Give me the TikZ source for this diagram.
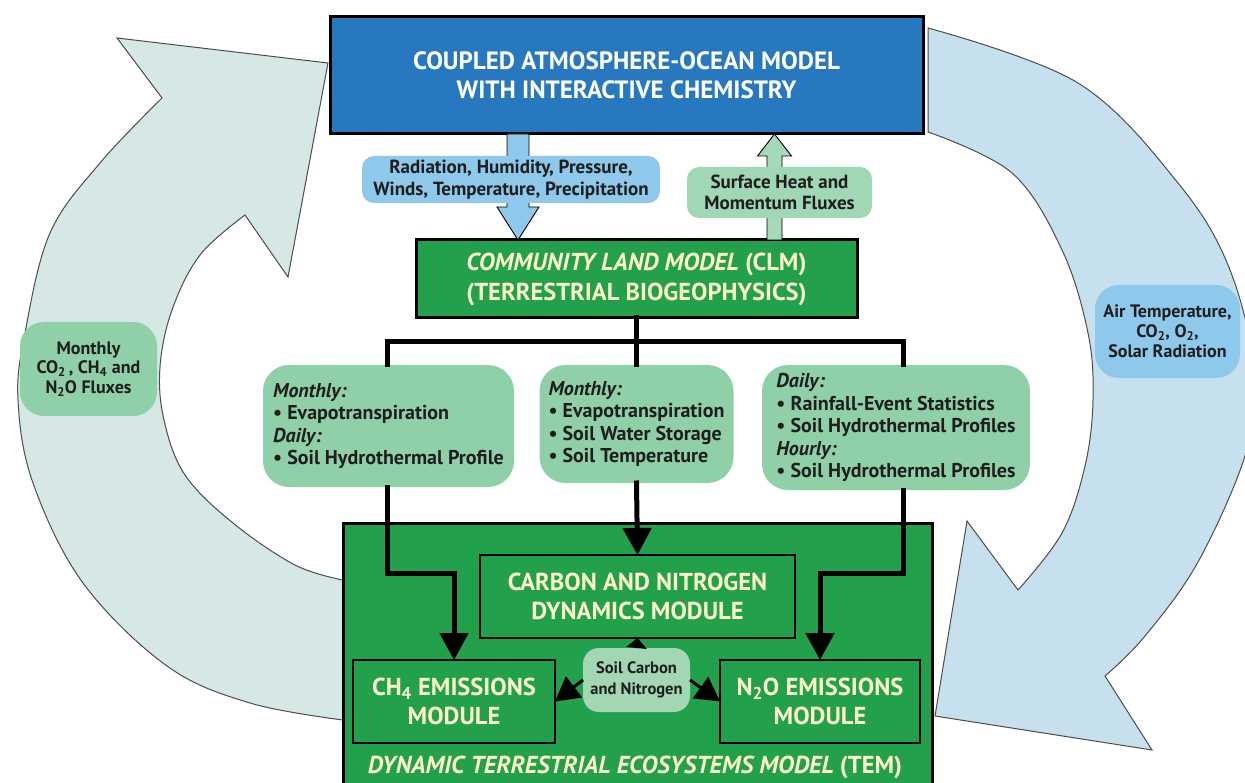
\documentclass[tikz,border=0pt]{standalone}
\usepackage{fontspec}
\setmainfont{PT Sans}
\usetikzlibrary{arrows.meta,calc}
\definecolor{atmblue}{HTML}{2878C0}
\definecolor{boxgreen}{HTML}{22A04B}
\definecolor{paleyellow}{HTML}{FDF6C6}
\definecolor{lgreen}{HTML}{8FD0A8}
\definecolor{lblue}{HTML}{8EC8EA}
\definecolor{leftarrow}{HTML}{D5E8E5}
\definecolor{rightarrow}{HTML}{C6E1ED}
\definecolor{darktext}{HTML}{1E1E1E}
\definecolor{soilfill}{HTML}{A3D6B2}
\tikzset{
  every node/.style={inner sep=0pt, outer sep=0pt},
  mainbox/.style={draw=black, line width=3pt, align=center},
  modbox/.style={draw=black, line width=2pt, fill=boxgreen, align=center, text=paleyellow,
    font=\bfseries\fontsize{24.5}{29}\selectfont},
  lbl/.style={rounded corners=26pt, fill=lgreen, align=left, text=darktext,
    font=\bfseries\fontsize{20}{22.5}\selectfont},
  bubble/.style={rounded corners=14pt, align=center, text=darktext},
  tree/.style={draw=black, line width=5pt, line cap=rect, line join=miter},
  flow/.style={tree, -{Triangle[width=28pt,length=27pt]}},
  soilarr/.style={draw=black, line width=3pt, -{Triangle[width=26pt,length=24pt]}},
  bigarrow/.style={draw=black!70, line width=1pt, line join=miter},
  fatarrow/.style={draw=black, line width=0.9pt, line join=miter},
}
\begin{document}
\begin{tikzpicture}[x=1pt, y=-1pt]
\useasboundingbox (0,0) rectangle (1245,783);
\clip (0,0) rectangle (1245,783);
\fill[white] (0,0) rectangle (1245,783);

% big curved arrows
\draw[bigarrow, fill=leftarrow]
  (343,720) -- plot[smooth, tension=0.6] coordinates {(343,720) (250,703) (167,666) (83,583) (33,483) (18,400) (25,333) (50,233) (100,163) (162,98)}
  -- (117,38) -- (328,63) -- (288,277) -- (245,215)
  -- plot[smooth, tension=0.6] coordinates {(245,215) (200,255) (172,310) (160,367) (164,420) (185,475) (233,523) (295,565) (343,580)}
  -- cycle;
\draw[bigarrow, fill=rightarrow]
  (928,28) -- plot[smooth, tension=0.6] coordinates {(928,28) (1078,83) (1178,183) (1230,270) (1256,380) (1245,456) (1198,562) (1145,636) (1105,676)}
  -- (1152,750) -- (935,716) -- (967,521) -- (1018,590)
  -- plot[smooth, tension=0.6] coordinates {(1018,590) (1062,533) (1085,466) (1093,400) (1088,333) (1062,250) (1012,173) (928,132)}
  -- cycle;

% main boxes
\node[mainbox, fill=atmblue, minimum width=593pt, minimum height=117pt, text=white,
  font=\bfseries\fontsize{25}{29.5}\selectfont] (atm) at (626.5,75.5)
  {COUPLED ATMOSPHERE-OCEAN MODEL\\WITH INTERACTIVE CHEMISTRY};
\node[mainbox, fill=boxgreen, minimum width=441pt, minimum height=78pt, text=paleyellow,
  font=\bfseries\fontsize{24.5}{30}\selectfont] (clm) at (636.5,279)
  {\textit{COMMUNITY LAND MODEL} (CLM)\\(TERRESTRIAL BIOGEOPHYSICS)};
\node[draw=black, line width=3pt, fill=boxgreen, minimum width=589pt, minimum height=270pt] (tem) at (637.5,658) {};

% fat arrows between atm and clm
\path (atm.south -| 518,0) coordinate (dtop) (clm.north -| 518,0) coordinate (dtip);
\draw[fatarrow, fill=lblue] ($(dtop)+(-11,0)$) -- ($(dtip)+(-11,-33)$) -- ($(dtip)+(-21,-33)$) -- (dtip)
  -- ($(dtip)+(21,-33)$) -- ($(dtip)+(11,-33)$) -- ($(dtop)+(11,0)$) -- cycle;
\path (clm.north -| 774.5,0) coordinate (utop) (atm.south -| 774.5,0) coordinate (utip);
\draw[fatarrow, fill=lgreen!80!white] ($(utop)+(-7.5,0)$) -- ($(utip)+(-7.5,22)$) -- ($(utip)+(-17,22)$) -- (utip)
  -- ($(utip)+(17,22)$) -- ($(utip)+(7.5,22)$) -- ($(utop)+(7.5,0)$) -- cycle;

% flux labels
\node[bubble, fill=lblue, minimum width=298pt, minimum height=47pt, rounded corners=12pt,
  font=\bfseries\fontsize{19}{21.5}\selectfont] (rad) at (511,179.5)
  {Radiation, Humidity, Pressure,\\Winds, Temperature, Precipitation};
\node[bubble, fill=lgreen!85!white, minimum width=185pt, minimum height=51pt, rounded corners=12pt,
  font=\bfseries\fontsize{19}{21}\selectfont] (shf) at (779.5,192.5)
  {Surface Heat and\\Momentum Fluxes};
\node[bubble, fill=lgreen, minimum width=137pt, minimum height=94pt, rounded corners=24pt,
  font=\bfseries\fontsize{18}{19.5}\selectfont] (co2) at (88.5,369)
  {Monthly\\CO\textsubscript{2}\,, CH\textsubscript{4} and\\N\textsubscript{2}O Fluxes};
\node[bubble, fill=lblue, minimum width=145pt, minimum height=93pt, rounded corners=24pt,
  font=\bfseries\fontsize{18}{20}\selectfont] (air) at (1167.5,331.5)
  {Air Temperature,\\CO\textsubscript{2}, O\textsubscript{2},\\Solar Radiation};

% three input labels
\node[lbl, minimum width=251pt, minimum height=122pt] (lbl1) at (388.5,426)
  {\textit{Monthly:}\\• Evapotranspiration\\\textit{Daily:}\\• Soil Hydrothermal Profile};
\node[lbl, minimum width=194pt, minimum height=118pt] (lbl2) at (636.5,424)
  {\textit{Monthly:}\\• Evapotranspiration\\• Soil Water Storage\\• Soil Temperature};
\node[lbl, minimum width=268pt, minimum height=125pt] (lbl3) at (896,427.5)
  {\textit{Daily:}\\• Rainfall-Event Statistics\\• Soil Hydrothermal Profiles\\\textit{Hourly:}\\• Soil Hydrothermal Profiles};

% tree from CLM
\coordinate (j1) at (387,342);
\coordinate (j3) at (903,342);
\draw[tree] (clm.south) -- (clm.south |- j1);
\draw[tree] (lbl1.north -| j1) -- (j1) -- (j3) -- (lbl3.north -| j3);
\draw[tree] (clm.south |- j1) -- (lbl2.north);

% modules
\node[modbox, minimum width=315pt, minimum height=83pt] (carbon) at (637.5,596.5)
  {CARBON AND NITROGEN\\DYNAMICS MODULE};
\node[modbox, minimum width=202pt, minimum height=83pt] (ch4) at (454,701.5)
  {CH\textsubscript{4} EMISSIONS\\MODULE};
\node[modbox, minimum width=200pt, minimum height=83pt] (n2o) at (820,701.5)
  {N\textsubscript{2}O EMISSIONS\\MODULE};
\node[text=paleyellow, font=\bfseries\fontsize{24.5}{28}\selectfont] (temlabel) at (635,767)
  {\textit{DYNAMIC TERRESTRIAL ECOSYSTEMS MODEL} (TEM)};

% flows into modules
\coordinate (k1) at (387,573);
\coordinate (k3) at (903,573);
\draw[flow] (lbl1.south -| k1) -- (k1) -| (ch4.north);
\draw[flow] (lbl3.south -| k3) -- (k3) -| (n2o.north);
\draw[flow] (lbl2.south) -- (carbon.north);

% soil carbon bubble
\node[bubble, fill=soilfill, minimum width=107pt, minimum height=64pt, rounded corners=16pt,
  font=\bfseries\fontsize{16.5}{21}\selectfont] (soil) at (636.5,680)
  {Soil Carbon\\and Nitrogen};
\draw[soilarr, -{Triangle[width=20pt,length=10pt]}] (soil.north) -- (carbon.south);
\draw[soilarr] (soil.west) -- (ch4.east);
\draw[soilarr] (soil.east) -- (n2o.west);
\end{tikzpicture}
\end{document}
